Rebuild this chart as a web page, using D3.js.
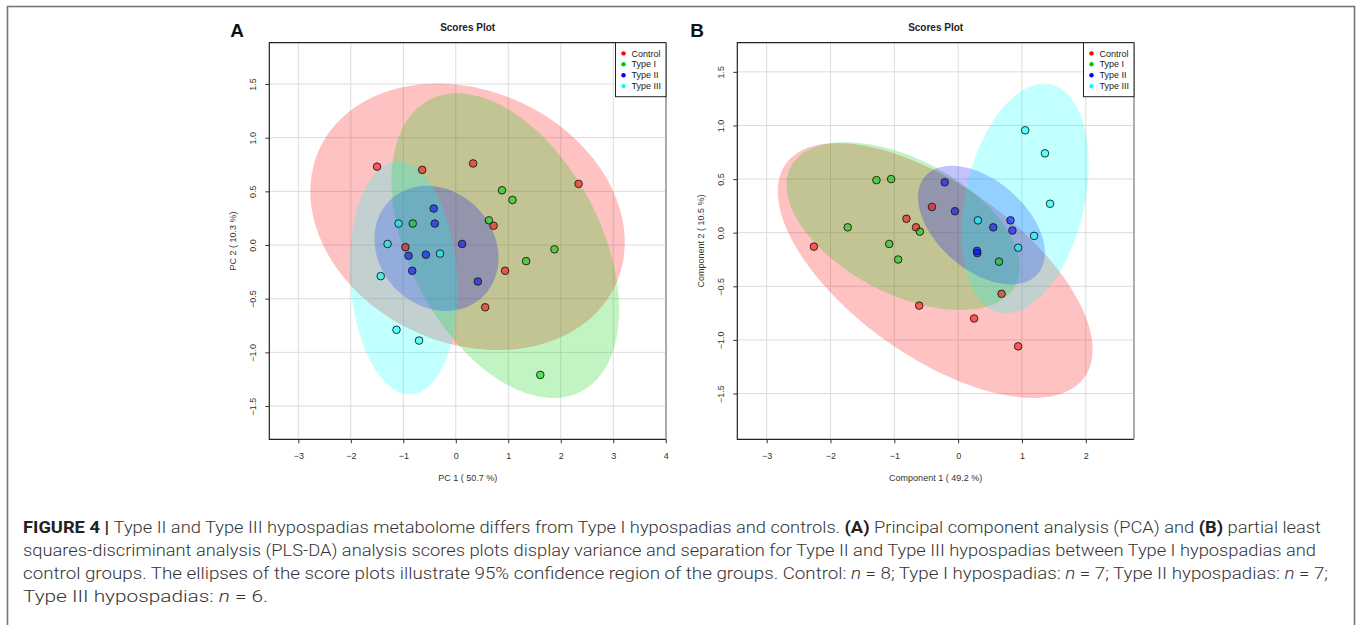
<!DOCTYPE html>
<html>
<head>
<meta charset="utf-8">
<script src="https://cdn.jsdelivr.net/npm/d3@7"></script>
<style>
  body { margin: 0; background: #fff; }
  svg { display: block; }
  .tick text { font-family: "Liberation Sans", Arial, sans-serif; font-size: 9px; fill: #333; }
  .tick line { stroke: #333; }
</style>
</head>
<body>
<div id="chart"></div>
<script>
// group names and colours (R palette: red, green3, blue, cyan)
const groups = ['Control', 'Type I', 'Type II', 'Type III'];
const groupColors = ['#ff0000', '#00cd00', '#0000ff', '#00ffff'];

// Panel A - PCA scores
const pcaControl = [[-1.50, 0.73], [-0.64, 0.70], [0.33, 0.76], [2.34, 0.57], [0.72, 0.18], [-0.96, -0.02], [0.94, -0.24], [0.56, -0.58]];
const pcaType1 = [[0.88, 0.51], [1.08, 0.42], [0.63, 0.23], [-0.82, 0.20], [1.88, -0.04], [1.34, -0.15], [1.61, -1.21]];
const pcaType2 = [[-0.42, 0.34], [-0.40, 0.20], [0.12, 0.01], [-0.90, -0.10], [-0.57, -0.09], [-0.83, -0.24], [0.42, -0.34]];
const pcaType3 = [[-1.09, 0.20], [-1.30, 0.01], [-0.30, -0.08], [-1.43, -0.29], [-1.13, -0.79], [-0.70, -0.89]];

// Panel B - PLS-DA scores
const plsControl = [[-0.41, 0.24], [-0.81, 0.13], [-0.66, 0.05], [-2.26, -0.13], [-0.61, -0.68], [0.68, -0.57], [0.25, -0.80], [0.94, -1.06]];
const plsType1 = [[-1.28, 0.49], [-1.05, 0.50], [-1.73, 0.05], [-0.60, 0.01], [-1.08, -0.105], [-0.94, -0.25], [0.64, -0.27]];
const plsType2 = [[-0.21, 0.47], [-0.05, 0.20], [0.55, 0.05], [0.82, 0.115], [0.85, 0.02], [0.295, -0.17], [0.30, -0.19]];
const plsType3 = [[1.05, 0.955], [1.36, 0.74], [1.44, 0.27], [0.31, 0.115], [1.19, -0.03], [0.94, -0.14]];

// axis ticks and ranges
const xTicksA = [-3, -2, -1, 0, 1, 2, 3, 4];
const xTicksB = [-3, -2, -1, 0, 1, 2];
const yTicks = [-1.5, -1.0, -0.5, 0.0, 0.5, 1.0, 1.5];
const xDomainA = [-3.553, 4.005];
const yDomainA = [-1.81, 1.885];
const xDomainB = [-3.46, 2.755];
const yDomainB = [-1.927, 1.772];

const captionLines = [
  [['b', 'FIGURE 4 | '], ['n', 'Type II and Type III hypospadias metabolome differs from Type I hypospadias and controls. '], ['b', '(A)'], ['n', ' Principal component analysis (PCA) and '], ['b', '(B)'], ['n', ' partial least']],
  [['n', 'squares-discriminant analysis (PLS-DA) analysis scores plots display variance and separation for Type II and Type III hypospadias between Type I hypospadias and']],
  [['n', 'control groups. The ellipses of the score plots illustrate 95% confidence region of the groups. Control: '], ['i', 'n'], ['n', ' = 8; Type I hypospadias: '], ['i', 'n'], ['n', ' = 7; Type II hypospadias: '], ['i', 'n'], ['n', ' = 7;']],
  [['n', 'Type III hypospadias: '], ['i', 'n'], ['n', ' = 6.']]
];
const captionWidths = [1298, 1293, 1305, 245];

const W = 1357, H = 625;
const svg = d3.select('#chart').append('svg').attr('width', W).attr('height', H);

// outer figure frame
svg.append('rect')
  .attr('x', 7.5).attr('y', 6.5)
  .attr('width', 1347).attr('height', 700)
  .attr('fill', 'none').attr('stroke', '#777').attr('stroke-width', 1.6);

// 95% confidence ellipse from group covariance
function ellipsePoints(pts) {
  const n = pts.length;
  const mx = d3.mean(pts, d => d[0]), my = d3.mean(pts, d => d[1]);
  let a = 0, b = 0, c = 0;
  pts.forEach(p => {
    a += (p[0] - mx) * (p[0] - mx);
    b += (p[0] - mx) * (p[1] - my);
    c += (p[1] - my) * (p[1] - my);
  });
  a /= n - 1; b /= n - 1; c /= n - 1;
  const t = Math.sqrt(5.991465); // sqrt(qchisq(0.95, 2))
  const mid = (a + c) / 2, dd = Math.sqrt(((a - c) / 2) ** 2 + b * b);
  const l1 = mid + dd, l2 = Math.max(mid - dd, 0);
  const th = 0.5 * Math.atan2(2 * b, a - c);
  return d3.range(0, 120).map(i => {
    const phi = i / 120 * 2 * Math.PI;
    const u = t * Math.sqrt(l1) * Math.cos(phi), v = t * Math.sqrt(l2) * Math.sin(phi);
    return [mx + u * Math.cos(th) - v * Math.sin(th), my + u * Math.sin(th) + v * Math.cos(th)];
  });
}

function drawPanel(cfg) {
  const x = d3.scaleLinear().domain(cfg.xDomain).range([cfg.left, cfg.left + cfg.width]);
  const y = d3.scaleLinear().domain(cfg.yDomain).range([cfg.top + cfg.height, cfg.top]);
  const g = svg.append('g');

  // grid
  g.append('g').selectAll('line.gx').data(cfg.xTicks).join('line')
    .attr('x1', d => x(d)).attr('x2', d => x(d))
    .attr('y1', cfg.top).attr('y2', cfg.top + cfg.height)
    .attr('stroke', '#dcdcdc').attr('stroke-width', 1);
  g.append('g').selectAll('line.gy').data(yTicks).join('line')
    .attr('y1', d => y(d)).attr('y2', d => y(d))
    .attr('x1', cfg.left).attr('x2', cfg.left + cfg.width)
    .attr('stroke', '#dcdcdc').attr('stroke-width', 1);

  // ellipses
  const line = d3.line().x(d => x(d[0])).y(d => y(d[1])).curve(d3.curveLinearClosed);
  cfg.series.forEach((pts, i) => {
    g.append('path')
      .attr('d', line(ellipsePoints(pts)))
      .attr('fill', groupColors[i]).attr('fill-opacity', 0.24)
      .attr('stroke', 'none');
  });

  // points
  cfg.series.forEach((pts, i) => {
    g.append('g').selectAll('circle').data(pts).join('circle')
      .attr('cx', d => x(d[0])).attr('cy', d => y(d[1]))
      .attr('r', 3.8)
      .attr('fill', groupColors[i]).attr('fill-opacity', 0.55)
      .attr('stroke', '#1a1a1a').attr('stroke-width', 0.9);
  });

  // box
  g.append('path')
    .attr('d', `M${cfg.left + cfg.width},${cfg.top}H${cfg.left}V${cfg.top + cfg.height}H${cfg.left + cfg.width}`)
    .attr('fill', 'none').attr('stroke', '#222').attr('stroke-width', 1.2);
  g.append('line')
    .attr('x1', cfg.left + cfg.width).attr('x2', cfg.left + cfg.width)
    .attr('y1', cfg.top).attr('y2', cfg.top + cfg.height)
    .attr('stroke', '#999').attr('stroke-width', 1.6);

  // axes
  const xAxis = g.append('g')
    .attr('transform', `translate(0,${cfg.top + cfg.height})`)
    .call(d3.axisBottom(x).tickValues(cfg.xTicks).tickSize(4).tickPadding(9).tickFormat(d3.format('d')));
  xAxis.select('.domain').remove();

  const yAxis = g.append('g')
    .attr('transform', `translate(${cfg.left},0)`)
    .call(d3.axisLeft(y).tickValues(yTicks).tickSize(4).tickFormat(d3.format('.1f')));
  yAxis.select('.domain').remove();
  yAxis.selectAll('text')
    .attr('x', 0).attr('dy', '0.35em')
    .attr('text-anchor', 'middle')
    .attr('transform', 'translate(-16,0) rotate(-90)');

  // axis titles
  g.append('text')
    .attr('x', cfg.left + cfg.width / 2).attr('y', cfg.top + cfg.height + 42)
    .attr('text-anchor', 'middle')
    .style('font', '9px "Liberation Sans", Arial, sans-serif').attr('fill', '#333')
    .text(cfg.xLabel);
  g.append('text')
    .attr('transform', `translate(${cfg.yLabelX},${cfg.top + cfg.height / 2}) rotate(-90)`)
    .attr('text-anchor', 'middle').attr('dy', '0.35em')
    .style('font', '9px "Liberation Sans", Arial, sans-serif').attr('fill', '#333')
    .text(cfg.yLabel);

  // title and panel letter
  g.append('text')
    .attr('x', cfg.left + cfg.width / 2).attr('y', 30.5)
    .attr('text-anchor', 'middle')
    .style('font', 'bold 10px "Liberation Sans", Arial, sans-serif').attr('fill', '#222')
    .text('Scores Plot');
  g.append('text')
    .attr('x', cfg.letterX).attr('y', 37)
    .attr('text-anchor', 'middle')
    .style('font', 'bold 19px "Liberation Sans", Arial, sans-serif').attr('fill', '#111')
    .text(cfg.letter);

  // legend
  const lgX = cfg.left + cfg.width - 50.5, lgY = cfg.top;
  const lg = g.append('g');
  lg.append('rect')
    .attr('x', lgX).attr('y', lgY).attr('width', 50.5).attr('height', 54)
    .attr('fill', '#fff').attr('stroke', '#222').attr('stroke-width', 1);
  groups.forEach((name, i) => {
    lg.append('circle')
      .attr('cx', lgX + 8).attr('cy', lgY + 10.7 + i * 10.9).attr('r', 2.2)
      .attr('fill', groupColors[i]);
    lg.append('text')
      .attr('x', lgX + 16).attr('y', lgY + 10.7 + i * 10.9).attr('dy', '0.35em')
      .style('font', '9px "Liberation Sans", Arial, sans-serif').attr('fill', '#222')
      .text(name);
  });
}

drawPanel({
  letter: 'A', letterX: 237,
  left: 269.3, top: 42.7, width: 396.7, height: 396.6,
  xDomain: xDomainA, yDomain: yDomainA, xTicks: xTicksA,
  xLabel: 'PC 1 ( 50.7 %)', yLabel: 'PC 2 ( 10.3 %)', yLabelX: 233,
  series: [pcaControl, pcaType1, pcaType2, pcaType3]
});

drawPanel({
  letter: 'B', letterX: 697,
  left: 737.3, top: 42.7, width: 396.7, height: 396.6,
  xDomain: xDomainB, yDomain: yDomainB, xTicks: xTicksB,
  xLabel: 'Component 1 ( 49.2 %)', yLabel: 'Component 2 ( 10.5 %)', yLabelX: 701,
  series: [plsControl, plsType1, plsType2, plsType3]
});

// caption
const cap = svg.append('g')
  .style('font-family', 'Roboto, "Liberation Sans", Arial, sans-serif')
  .style('font-size', '16px')
  .style('font-weight', 300);
captionLines.forEach((parts, i) => {
  const t = cap.append('text')
    .attr('x', 23).attr('y', 533 + i * 23)
    .attr('fill', '#333')
    .attr('textLength', captionWidths[i])
    .attr('lengthAdjust', 'spacingAndGlyphs');
  parts.forEach(p => {
    const s = t.append('tspan').text(p[1]);
    if (p[0] === 'b') s.attr('font-weight', 'bold').attr('fill', '#222');
    if (p[0] === 'i') s.attr('font-style', 'italic');
  });
});
</script>
</body>
</html>
